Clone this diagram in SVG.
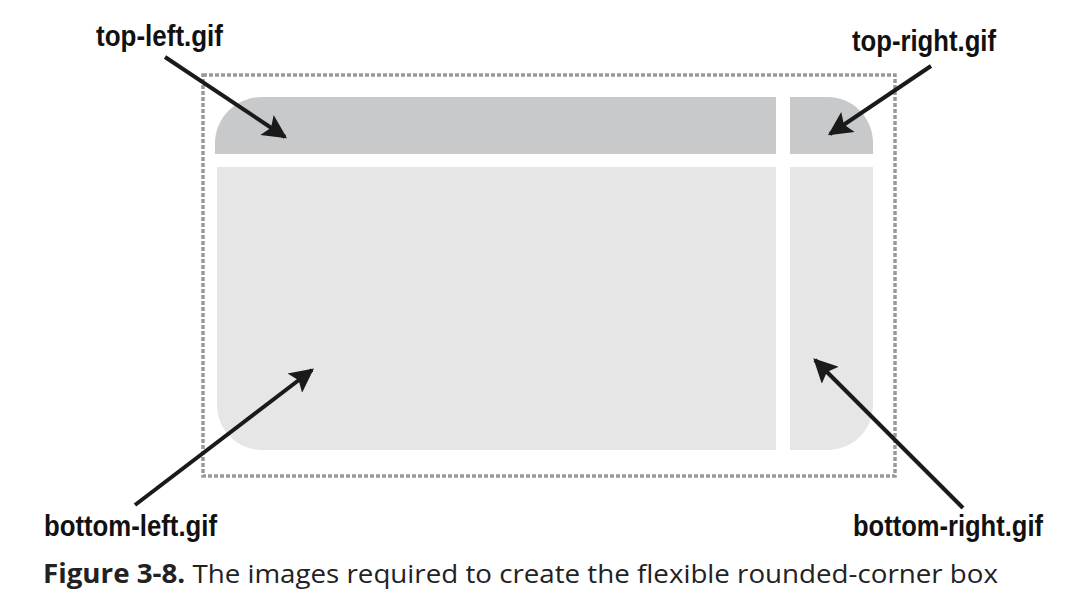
<svg xmlns="http://www.w3.org/2000/svg" width="1080" height="615" viewBox="0 0 1080 615">
<style>
.lbl{font-family:"Liberation Sans",Arial,sans-serif;font-weight:bold;font-size:30px;fill:#111}
.top{fill:#c8c9cb}
.bot{fill:#e6e6e6}
.conn{stroke:#1a1a1a;stroke-width:4;fill:none;marker-end:url(#ah)}
.cap{font-family:"Open Sans","Noto Sans",sans-serif;font-size:26px;fill:#222}
</style>
<defs>
<marker id="ah" viewBox="0 0 10 10" refX="9" refY="5" markerWidth="7" markerHeight="6" markerUnits="strokeWidth" orient="auto">
<path d="M0,0 L10,5 L0,10 L2,5 z" fill="#1a1a1a"/>
</marker>
</defs>
<rect width="1080" height="615" fill="#fff"/>
<rect id="frame" x="203" y="75" width="692" height="401" fill="none" stroke="#999" stroke-width="3.5" stroke-dasharray="4 2"/>
<g id="top-left"><path class="top" d="M215,154 V143 A47,46 0 0 1 262,97 H776 V154 Z"/></g>
<g id="top-right"><path class="top" d="M790,154 V97 H828 A45,46 0 0 1 873,143 V154 Z"/></g>
<g id="bottom-left"><path class="bot" d="M217,167 H776 V450 H262 A45,45 0 0 1 217,405 Z"/></g>
<g id="bottom-right"><path class="bot" d="M790,167 H873 V405 A45,45 0 0 1 828,450 H790 Z"/></g>
<g id="connectors">
<line class="conn" x1="165" y1="57" x2="285" y2="137"/>
<line class="conn" x1="931" y1="66" x2="830" y2="134"/>
<line class="conn" x1="135" y1="505" x2="312" y2="370"/>
<line class="conn" x1="963" y1="508" x2="815" y2="360"/>
</g>
<g id="labels">
<text class="lbl" x="96" y="46" textLength="127" lengthAdjust="spacingAndGlyphs">top-left.gif</text>
<text class="lbl" x="852" y="51" textLength="144" lengthAdjust="spacingAndGlyphs">top-right.gif</text>
<text class="lbl" x="44" y="536" textLength="173" lengthAdjust="spacingAndGlyphs">bottom-left.gif</text>
<text class="lbl" x="853" y="536" textLength="190" lengthAdjust="spacingAndGlyphs">bottom-right.gif</text>
</g>
<text class="cap" x="43" y="583" textLength="955" lengthAdjust="spacingAndGlyphs"><tspan font-weight="bold">Figure 3-8.</tspan> The images required to create the flexible rounded-corner box</text>
</svg>
